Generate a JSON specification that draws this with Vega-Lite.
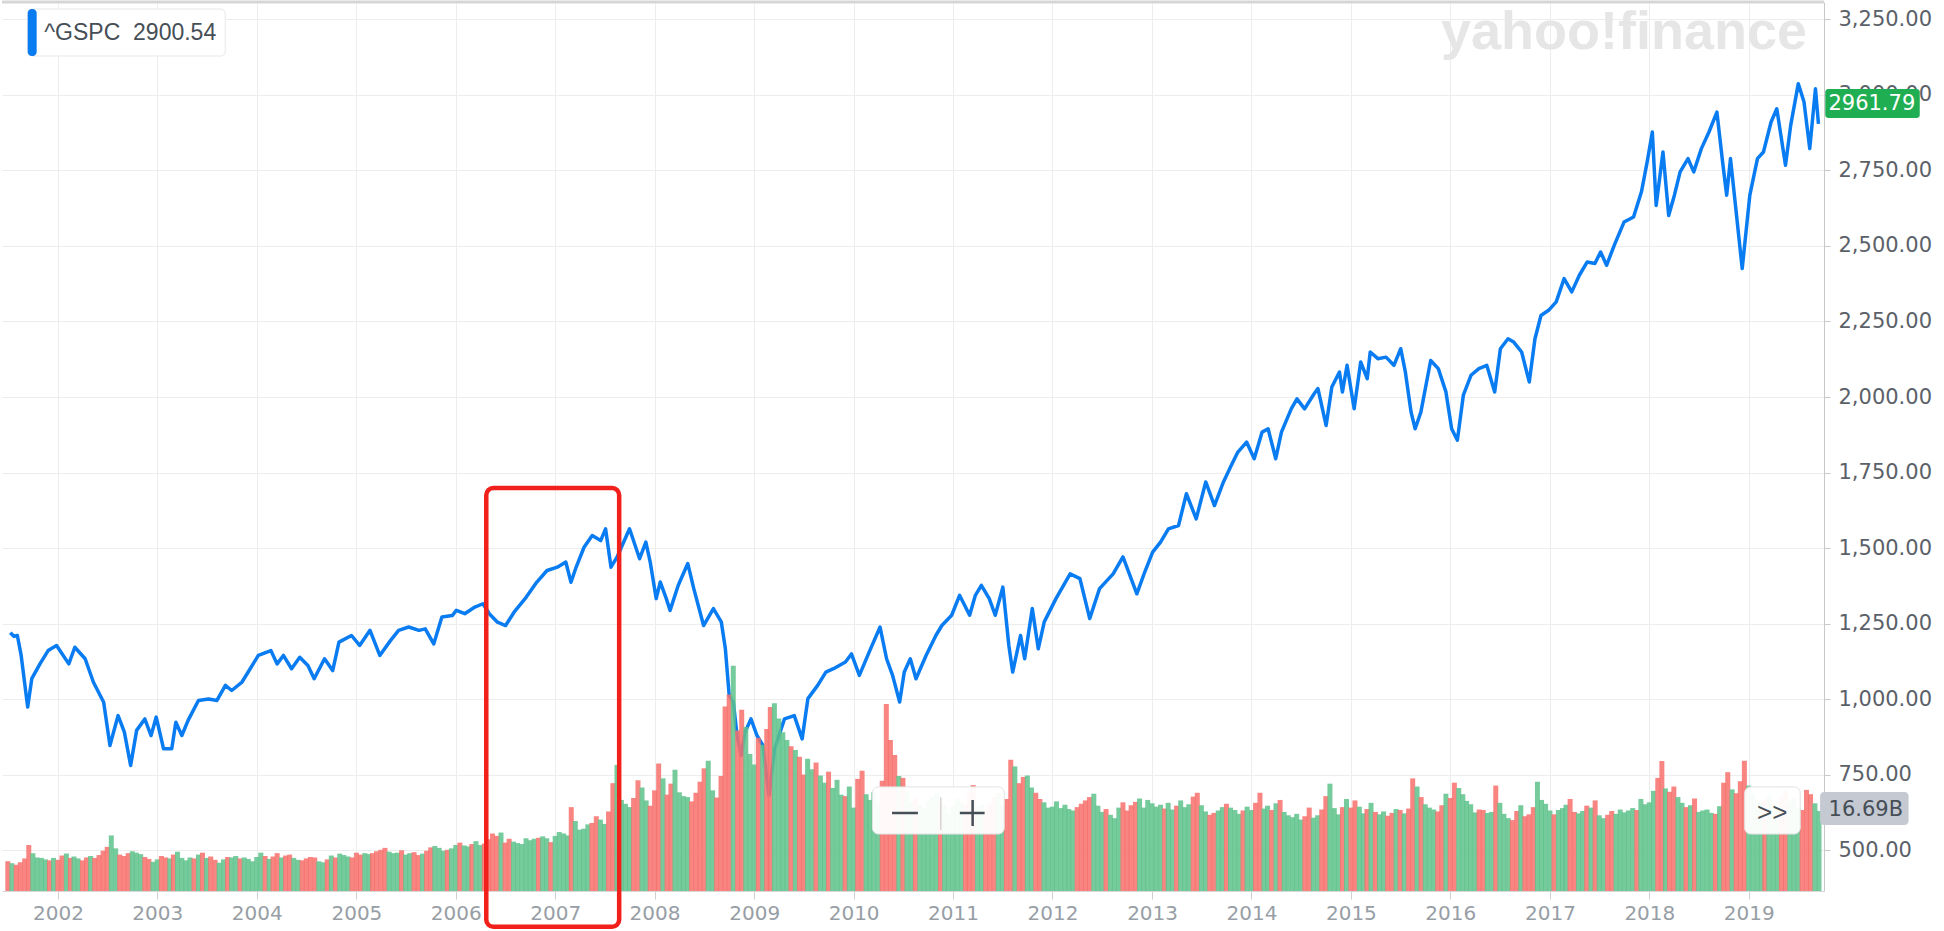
{
"$schema":"https://vega.github.io/schema/vega-lite/v6.json",
"width":1822,"height":889,"padding":0,"background":"white",
"config":{"view":{"stroke":null},"font":"Liberation Sans",
"axisX":{"grid":true,"gridColor":"#ededed","domainColor":"#d9d9d9","tickColor":"#cfcfcf","tickSize":8,"labelFontSize":20,"labelColor":"#979ea5","labelPadding":4,"labelFont":"DejaVu Sans","labelFlush":false,"labelOverlap":false},
"axisY":{"grid":true,"gridColor":"#ededed","domainColor":"#c8c8c8","tickColor":"#c8c8c8","tickSize":6,"labelPadding":8,"labelFontSize":21,"labelColor":"#5b6168","labelFont":"DejaVu Sans"}},
"datasets":{
"one":[{}],
"p":[
{"d":"2001-07-10","c":1220},{"d":"2001-07-24","c":1208},{"d":"2001-08-05","c":1211},{"d":"2001-08-19","c":1145},{"d":"2001-09-12","c":974},{"d":"2001-09-27","c":1068},{"d":"2001-10-27","c":1117},{"d":"2001-11-26","c":1161},{"d":"2001-12-27","c":1178},
{"d":"2002-02-10","c":1117},{"d":"2002-03-04","c":1172},{"d":"2002-04-11","c":1134},{"d":"2002-05-11","c":1057},{"d":"2002-06-18","c":990},{"d":"2002-07-11","c":847},{"d":"2002-08-10","c":946},{"d":"2002-09-02","c":891},{"d":"2002-09-25","c":781},{"d":"2002-10-17","c":897},{"d":"2002-11-16","c":935},{"d":"2002-12-09","c":880},{"d":"2002-12-28","c":941},
{"d":"2003-01-24","c":836},{"d":"2003-02-23","c":836},{"d":"2003-03-10","c":924},{"d":"2003-04-01","c":880},{"d":"2003-04-24","c":930},{"d":"2003-06-01","c":996},{"d":"2003-07-08","c":1001},{"d":"2003-08-08","c":996},{"d":"2003-09-08","c":1046},{"d":"2003-10-01","c":1029},{"d":"2003-11-08","c":1057},{"d":"2003-12-08","c":1101},
{"d":"2004-01-07","c":1145},{"d":"2004-02-22","c":1161},{"d":"2004-03-16","c":1117},{"d":"2004-04-08","c":1145},{"d":"2004-05-08","c":1101},{"d":"2004-06-07","c":1139},{"d":"2004-07-07","c":1112},{"d":"2004-07-30","c":1068},{"d":"2004-09-06","c":1134},{"d":"2004-10-06","c":1095},{"d":"2004-10-29","c":1189},{"d":"2004-12-14","c":1211},
{"d":"2005-01-13","c":1178},{"d":"2005-02-20","c":1228},{"d":"2005-03-28","c":1145},{"d":"2005-05-06","c":1194},{"d":"2005-06-05","c":1228},{"d":"2005-07-12","c":1239},{"d":"2005-08-19","c":1228},{"d":"2005-09-11","c":1233},{"d":"2005-10-12","c":1183},{"d":"2005-11-11","c":1272},{"d":"2005-12-19","c":1277},
{"d":"2006-01-03","c":1294},{"d":"2006-02-03","c":1283},{"d":"2006-03-12","c":1305},{"d":"2006-04-11","c":1316},{"d":"2006-05-04","c":1283},{"d":"2006-06-03","c":1255},{"d":"2006-07-03","c":1244},{"d":"2006-08-03","c":1288},{"d":"2006-09-17","c":1338},{"d":"2006-10-25","c":1387},{"d":"2006-12-02","c":1426},
{"d":"2007-01-09","c":1437},{"d":"2007-02-09","c":1454},{"d":"2007-02-28","c":1387},{"d":"2007-03-17","c":1432},{"d":"2007-04-17","c":1503},{"d":"2007-05-17","c":1542},{"d":"2007-06-17","c":1525},{"d":"2007-07-05","c":1564},{"d":"2007-07-25","c":1437},{"d":"2007-08-16","c":1470},{"d":"2007-10-01","c":1564},{"d":"2007-11-07","c":1465},{"d":"2007-11-30","c":1520},{"d":"2007-12-16","c":1454},
{"d":"2008-01-07","c":1333},{"d":"2008-01-22","c":1388},{"d":"2008-02-13","c":1333},{"d":"2008-02-27","c":1294},{"d":"2008-03-28","c":1377},{"d":"2008-05-02","c":1449},{"d":"2008-05-24","c":1366},{"d":"2008-06-29","c":1244},{"d":"2008-08-04","c":1300},{"d":"2008-09-02","c":1256},{"d":"2008-09-17","c":1167},{"d":"2008-10-01","c":1013},{"d":"2008-10-16","c":991},{"d":"2008-10-30","c":880},{"d":"2008-11-14","c":814},{"d":"2008-11-28","c":891},{"d":"2008-12-20","c":935},
{"d":"2009-01-11","c":880},{"d":"2009-02-02","c":847},{"d":"2009-02-24","c":682},{"d":"2009-03-17","c":836},{"d":"2009-04-22","c":935},{"d":"2009-05-28","c":946},{"d":"2009-06-26","c":869},{"d":"2009-07-17","c":1002},{"d":"2009-08-22","c":1046},{"d":"2009-09-21","c":1090},{"d":"2009-10-19","c":1101},{"d":"2009-12-02","c":1123},{"d":"2009-12-24","c":1150},
{"d":"2010-01-22","c":1079},{"d":"2010-02-27","c":1156},{"d":"2010-04-08","c":1239},{"d":"2010-05-02","c":1134},{"d":"2010-05-24","c":1079},{"d":"2010-06-19","c":991},{"d":"2010-07-06","c":1090},{"d":"2010-07-28","c":1134},{"d":"2010-08-18","c":1068},{"d":"2010-09-24","c":1145},{"d":"2010-10-30","c":1211},{"d":"2010-11-21","c":1244},{"d":"2010-12-27","c":1278},
{"d":"2011-01-25","c":1344},{"d":"2011-03-03","c":1278},{"d":"2011-03-24","c":1344},{"d":"2011-04-15","c":1377},{"d":"2011-05-14","c":1333},{"d":"2011-06-05","c":1278},{"d":"2011-07-03","c":1371},{"d":"2011-07-25","c":1178},{"d":"2011-08-08","c":1090},{"d":"2011-09-06","c":1211},{"d":"2011-09-21","c":1134},{"d":"2011-10-19","c":1300},{"d":"2011-11-10","c":1167},{"d":"2011-12-02","c":1256},
{"d":"2012-01-14","c":1333},{"d":"2012-03-06","c":1415},{"d":"2012-04-11","c":1399},{"d":"2012-05-17","c":1267},{"d":"2012-06-22","c":1366},{"d":"2012-08-11","c":1415},{"d":"2012-09-16","c":1471},{"d":"2012-11-06","c":1349},{"d":"2012-12-05","c":1421},
{"d":"2013-01-03","c":1487},{"d":"2013-02-01","c":1520},{"d":"2013-03-02","c":1564},{"d":"2013-04-08","c":1575},{"d":"2013-05-07","c":1680},{"d":"2013-06-12","c":1597},{"d":"2013-07-17","c":1719},{"d":"2013-08-18","c":1641},{"d":"2013-09-20","c":1719},{"d":"2013-10-19","c":1774},{"d":"2013-11-12","c":1818},{"d":"2013-12-14","c":1851},
{"d":"2014-01-11","c":1796},{"d":"2014-02-09","c":1884},{"d":"2014-03-03","c":1895},{"d":"2014-03-31","c":1796},{"d":"2014-04-21","c":1884},{"d":"2014-05-27","c":1961},{"d":"2014-06-17","c":1994},{"d":"2014-07-15","c":1961},{"d":"2014-08-19","c":2011},{"d":"2014-09-02","c":2028},{"d":"2014-10-02","c":1906},{"d":"2014-10-23","c":2033},{"d":"2014-11-20","c":2083},{"d":"2014-12-01","c":2017},{"d":"2014-12-18","c":2105},
{"d":"2015-01-13","c":1961},{"d":"2015-02-06","c":2116},{"d":"2015-03-02","c":2061},{"d":"2015-03-13","c":2149},{"d":"2015-04-10","c":2127},{"d":"2015-05-10","c":2132},{"d":"2015-06-08","c":2105},{"d":"2015-07-03","c":2160},{"d":"2015-07-20","c":2083},{"d":"2015-08-10","c":1950},{"d":"2015-08-25","c":1895},{"d":"2015-09-15","c":1950},{"d":"2015-10-21","c":2121},{"d":"2015-11-18","c":2094},{"d":"2015-12-16","c":2017},
{"d":"2016-01-06","c":1895},{"d":"2016-01-27","c":1857},{"d":"2016-02-18","c":2006},{"d":"2016-03-17","c":2072},{"d":"2016-04-15","c":2094},{"d":"2016-05-14","c":2105},{"d":"2016-06-12","c":2017},{"d":"2016-07-03","c":2160},{"d":"2016-07-31","c":2193},{"d":"2016-08-21","c":2182},{"d":"2016-09-19","c":2149},{"d":"2016-10-17","c":2050},{"d":"2016-11-07","c":2193},{"d":"2016-11-29","c":2270},{"d":"2016-12-27","c":2287},
{"d":"2017-01-24","c":2315},{"d":"2017-02-22","c":2392},{"d":"2017-03-22","c":2348},{"d":"2017-04-19","c":2403},{"d":"2017-05-18","c":2447},{"d":"2017-06-15","c":2442},{"d":"2017-07-06","c":2480},{"d":"2017-07-28","c":2436},{"d":"2017-08-25","c":2502},{"d":"2017-09-30","c":2579},{"d":"2017-11-04","c":2596},{"d":"2017-12-03","c":2679},{"d":"2017-12-24","c":2778},
{"d":"2018-01-12","c":2877},{"d":"2018-01-26","c":2634},{"d":"2018-02-20","c":2811},{"d":"2018-03-13","c":2601},{"d":"2018-04-03","c":2668},{"d":"2018-04-24","c":2745},{"d":"2018-05-23","c":2789},{"d":"2018-06-13","c":2745},{"d":"2018-07-11","c":2822},{"d":"2018-08-08","c":2877},{"d":"2018-09-06","c":2943},{"d":"2018-09-27","c":2778},{"d":"2018-10-12","c":2668},{"d":"2018-10-26","c":2789},{"d":"2018-11-12","c":2645},{"d":"2018-12-08","c":2425},
{"d":"2019-01-05","c":2668},{"d":"2019-02-02","c":2789},{"d":"2019-02-24","c":2811},{"d":"2019-03-24","c":2910},{"d":"2019-04-14","c":2954},{"d":"2019-05-16","c":2767},{"d":"2019-06-04","c":2899},{"d":"2019-07-02","c":3037},{"d":"2019-07-23","c":2976},{"d":"2019-08-13","c":2822},{"d":"2019-09-03","c":3020},{"d":"2019-09-14","c":2904}
],
"v":[
{"d":"2001-07-01","v":6.2,"u":0},{"d":"2001-07-16","v":5.8,"u":1},{"d":"2001-08-01","v":5.5,"u":0},{"d":"2001-08-16","v":6.0,"u":0},{"d":"2001-09-01","v":6.8,"u":0},{"d":"2001-09-16","v":9.6,"u":0},{"d":"2001-10-01","v":7.9,"u":1},{"d":"2001-10-16","v":7.0,"u":1},{"d":"2001-11-01","v":6.9,"u":1},{"d":"2001-11-16","v":6.6,"u":1},{"d":"2001-12-01","v":6.4,"u":0},{"d":"2001-12-16","v":6.9,"u":1},
{"d":"2002-01-01","v":6.5,"u":0},{"d":"2002-01-16","v":7.4,"u":0},{"d":"2002-02-01","v":7.8,"u":1},{"d":"2002-02-16","v":6.9,"u":0},{"d":"2002-03-01","v":7.2,"u":1},{"d":"2002-03-16","v":6.8,"u":1},{"d":"2002-04-01","v":6.4,"u":0},{"d":"2002-04-16","v":7.0,"u":0},{"d":"2002-05-01","v":7.3,"u":1},{"d":"2002-05-16","v":6.9,"u":0},{"d":"2002-06-01","v":7.5,"u":0},{"d":"2002-06-16","v":8.4,"u":0},{"d":"2002-07-01","v":9.2,"u":0},{"d":"2002-07-16","v":11.6,"u":1},{"d":"2002-08-01","v":8.9,"u":1},{"d":"2002-08-16","v":7.6,"u":0},{"d":"2002-09-01","v":7.3,"u":0},{"d":"2002-09-16","v":7.9,"u":0},{"d":"2002-10-01","v":8.3,"u":1},{"d":"2002-10-16","v":8.0,"u":1},{"d":"2002-11-01","v":7.7,"u":1},{"d":"2002-11-16","v":7.1,"u":0},{"d":"2002-12-01","v":6.7,"u":0},{"d":"2002-12-16","v":6.1,"u":1},
{"d":"2003-01-01","v":6.6,"u":1},{"d":"2003-01-16","v":7.3,"u":0},{"d":"2003-02-01","v":7.0,"u":0},{"d":"2003-02-16","v":6.8,"u":1},{"d":"2003-03-01","v":7.6,"u":0},{"d":"2003-03-16","v":8.2,"u":1},{"d":"2003-04-01","v":6.9,"u":1},{"d":"2003-04-16","v":6.4,"u":1},{"d":"2003-05-01","v":7.0,"u":1},{"d":"2003-05-16","v":6.8,"u":0},{"d":"2003-06-01","v":7.6,"u":1},{"d":"2003-06-16","v":8.0,"u":0},{"d":"2003-07-01","v":6.9,"u":1},{"d":"2003-07-16","v":7.2,"u":0},{"d":"2003-08-01","v":6.5,"u":0},{"d":"2003-08-16","v":5.9,"u":1},{"d":"2003-09-01","v":6.6,"u":1},{"d":"2003-09-16","v":7.1,"u":0},{"d":"2003-10-01","v":7.0,"u":1},{"d":"2003-10-16","v":7.3,"u":1},{"d":"2003-11-01","v":6.8,"u":0},{"d":"2003-11-16","v":7.0,"u":1},{"d":"2003-12-01","v":6.7,"u":1},{"d":"2003-12-16","v":6.2,"u":1},
{"d":"2004-01-01","v":7.1,"u":1},{"d":"2004-01-16","v":8.0,"u":1},{"d":"2004-02-01","v":7.3,"u":0},{"d":"2004-02-16","v":6.7,"u":1},{"d":"2004-03-01","v":7.2,"u":0},{"d":"2004-03-16","v":7.9,"u":0},{"d":"2004-04-01","v":7.0,"u":1},{"d":"2004-04-16","v":7.4,"u":0},{"d":"2004-05-01","v":7.6,"u":0},{"d":"2004-05-16","v":6.9,"u":1},{"d":"2004-06-01","v":6.5,"u":1},{"d":"2004-06-16","v":6.4,"u":0},{"d":"2004-07-01","v":6.8,"u":0},{"d":"2004-07-16","v":7.1,"u":0},{"d":"2004-08-01","v":7.0,"u":0},{"d":"2004-08-16","v":6.2,"u":1},{"d":"2004-09-01","v":6.0,"u":1},{"d":"2004-09-16","v":6.6,"u":0},{"d":"2004-10-01","v":7.4,"u":1},{"d":"2004-10-16","v":7.0,"u":0},{"d":"2004-11-01","v":7.8,"u":1},{"d":"2004-11-16","v":7.5,"u":1},{"d":"2004-12-01","v":7.2,"u":1},{"d":"2004-12-16","v":7.0,"u":0},
{"d":"2005-01-01","v":8.0,"u":0},{"d":"2005-01-16","v":7.6,"u":0},{"d":"2005-02-01","v":7.9,"u":1},{"d":"2005-02-16","v":7.7,"u":1},{"d":"2005-03-01","v":7.9,"u":0},{"d":"2005-03-16","v":8.3,"u":0},{"d":"2005-04-01","v":8.6,"u":0},{"d":"2005-04-16","v":9.0,"u":0},{"d":"2005-05-01","v":8.2,"u":1},{"d":"2005-05-16","v":7.9,"u":1},{"d":"2005-06-01","v":8.0,"u":1},{"d":"2005-06-16","v":8.5,"u":0},{"d":"2005-07-01","v":7.6,"u":1},{"d":"2005-07-16","v":7.9,"u":1},{"d":"2005-08-01","v":8.1,"u":0},{"d":"2005-08-16","v":7.5,"u":0},{"d":"2005-09-01","v":7.8,"u":1},{"d":"2005-09-16","v":8.4,"u":0},{"d":"2005-10-01","v":9.1,"u":0},{"d":"2005-10-16","v":9.4,"u":1},{"d":"2005-11-01","v":9.0,"u":1},{"d":"2005-11-16","v":8.4,"u":1},{"d":"2005-12-01","v":8.6,"u":0},{"d":"2005-12-16","v":8.9,"u":1},
{"d":"2006-01-01","v":9.6,"u":1},{"d":"2006-01-16","v":10.1,"u":0},{"d":"2006-02-01","v":9.5,"u":1},{"d":"2006-02-16","v":9.3,"u":1},{"d":"2006-03-01","v":9.8,"u":0},{"d":"2006-03-16","v":10.4,"u":1},{"d":"2006-04-01","v":9.6,"u":1},{"d":"2006-04-16","v":9.9,"u":0},{"d":"2006-05-01","v":10.8,"u":0},{"d":"2006-05-16","v":12.0,"u":0},{"d":"2006-06-01","v":11.5,"u":0},{"d":"2006-06-16","v":12.2,"u":1},{"d":"2006-07-01","v":10.1,"u":0},{"d":"2006-07-16","v":10.9,"u":0},{"d":"2006-08-01","v":10.3,"u":1},{"d":"2006-08-16","v":10.0,"u":1},{"d":"2006-09-01","v":9.8,"u":1},{"d":"2006-09-16","v":11.0,"u":1},{"d":"2006-10-01","v":10.6,"u":1},{"d":"2006-10-16","v":10.9,"u":1},{"d":"2006-11-01","v":11.1,"u":0},{"d":"2006-11-16","v":11.4,"u":1},{"d":"2006-12-01","v":11.0,"u":1},{"d":"2006-12-16","v":10.2,"u":0},
{"d":"2007-01-01","v":11.5,"u":1},{"d":"2007-01-16","v":12.3,"u":1},{"d":"2007-02-01","v":12.0,"u":1},{"d":"2007-02-16","v":11.6,"u":1},{"d":"2007-03-01","v":17.5,"u":0},{"d":"2007-03-16","v":14.6,"u":1},{"d":"2007-04-01","v":12.8,"u":1},{"d":"2007-04-16","v":13.0,"u":1},{"d":"2007-05-01","v":13.9,"u":1},{"d":"2007-05-16","v":14.2,"u":0},{"d":"2007-06-01","v":15.6,"u":0},{"d":"2007-06-16","v":14.9,"u":1},{"d":"2007-07-01","v":14.0,"u":1},{"d":"2007-07-16","v":16.6,"u":0},{"d":"2007-08-01","v":22.5,"u":0},{"d":"2007-08-16","v":26.3,"u":1},{"d":"2007-09-01","v":19.0,"u":1},{"d":"2007-09-16","v":18.2,"u":1},{"d":"2007-10-01","v":17.5,"u":1},{"d":"2007-10-16","v":19.4,"u":0},{"d":"2007-11-01","v":23.1,"u":0},{"d":"2007-11-16","v":21.6,"u":1},{"d":"2007-12-01","v":18.9,"u":1},{"d":"2007-12-16","v":17.8,"u":0},
{"d":"2008-01-01","v":21.0,"u":0},{"d":"2008-01-16","v":26.6,"u":0},{"d":"2008-02-01","v":23.5,"u":1},{"d":"2008-02-16","v":20.1,"u":0},{"d":"2008-03-01","v":22.4,"u":0},{"d":"2008-03-16","v":25.3,"u":1},{"d":"2008-04-01","v":20.6,"u":1},{"d":"2008-04-16","v":19.8,"u":1},{"d":"2008-05-01","v":19.6,"u":1},{"d":"2008-05-16","v":18.7,"u":0},{"d":"2008-06-01","v":20.5,"u":0},{"d":"2008-06-16","v":22.8,"u":0},{"d":"2008-07-01","v":25.6,"u":0},{"d":"2008-07-16","v":27.2,"u":1},{"d":"2008-08-01","v":21.0,"u":1},{"d":"2008-08-16","v":19.5,"u":0},{"d":"2008-09-01","v":24.0,"u":0},{"d":"2008-09-16","v":38.5,"u":0},{"d":"2008-10-01","v":41.0,"u":0},{"d":"2008-10-16","v":47.0,"u":1},{"d":"2008-11-01","v":33.5,"u":0},{"d":"2008-11-16","v":37.8,"u":0},{"d":"2008-12-01","v":34.2,"u":1},{"d":"2008-12-16","v":28.6,"u":1},
{"d":"2009-01-01","v":26.4,"u":1},{"d":"2009-01-16","v":32.0,"u":0},{"d":"2009-02-01","v":30.5,"u":1},{"d":"2009-02-16","v":33.8,"u":0},{"d":"2009-03-01","v":38.4,"u":0},{"d":"2009-03-16","v":39.2,"u":1},{"d":"2009-04-01","v":36.0,"u":1},{"d":"2009-04-16","v":33.1,"u":1},{"d":"2009-05-01","v":31.5,"u":1},{"d":"2009-05-16","v":30.2,"u":0},{"d":"2009-06-01","v":29.4,"u":1},{"d":"2009-06-16","v":28.0,"u":0},{"d":"2009-07-01","v":24.3,"u":0},{"d":"2009-07-16","v":27.6,"u":1},{"d":"2009-08-01","v":25.4,"u":1},{"d":"2009-08-16","v":26.8,"u":0},{"d":"2009-09-01","v":24.1,"u":1},{"d":"2009-09-16","v":22.6,"u":1},{"d":"2009-10-01","v":24.9,"u":0},{"d":"2009-10-16","v":21.5,"u":1},{"d":"2009-11-01","v":23.2,"u":1},{"d":"2009-11-16","v":20.1,"u":1},{"d":"2009-12-01","v":19.8,"u":0},{"d":"2009-12-16","v":21.8,"u":1},
{"d":"2010-01-01","v":17.4,"u":1},{"d":"2010-01-16","v":23.4,"u":0},{"d":"2010-02-01","v":25.1,"u":0},{"d":"2010-02-16","v":20.2,"u":1},{"d":"2010-03-01","v":19.0,"u":1},{"d":"2010-03-16","v":20.6,"u":1},{"d":"2010-04-01","v":18.1,"u":1},{"d":"2010-04-16","v":23.0,"u":0},{"d":"2010-05-01","v":39.0,"u":0},{"d":"2010-05-16","v":31.5,"u":0},{"d":"2010-06-01","v":28.4,"u":0},{"d":"2010-06-16","v":24.0,"u":1},{"d":"2010-07-01","v":23.6,"u":0},{"d":"2010-07-16","v":20.8,"u":1},{"d":"2010-08-01","v":18.6,"u":1},{"d":"2010-08-16","v":19.4,"u":0},{"d":"2010-09-01","v":18.0,"u":1},{"d":"2010-09-16","v":17.2,"u":1},{"d":"2010-10-01","v":18.8,"u":1},{"d":"2010-10-16","v":19.6,"u":1},{"d":"2010-11-01","v":20.4,"u":1},{"d":"2010-11-16","v":18.5,"u":0},{"d":"2010-12-01","v":17.9,"u":1},{"d":"2010-12-16","v":16.2,"u":1},
{"d":"2011-01-01","v":17.8,"u":1},{"d":"2011-01-16","v":19.3,"u":1},{"d":"2011-02-01","v":18.4,"u":1},{"d":"2011-02-16","v":17.9,"u":0},{"d":"2011-03-01","v":20.5,"u":0},{"d":"2011-03-16","v":22.1,"u":0},{"d":"2011-04-01","v":17.6,"u":1},{"d":"2011-04-16","v":18.1,"u":1},{"d":"2011-05-01","v":17.0,"u":0},{"d":"2011-05-16","v":18.3,"u":0},{"d":"2011-06-01","v":19.6,"u":0},{"d":"2011-06-16","v":20.4,"u":1},{"d":"2011-07-01","v":17.8,"u":1},{"d":"2011-07-16","v":19.2,"u":0},{"d":"2011-08-01","v":27.4,"u":0},{"d":"2011-08-16","v":26.0,"u":1},{"d":"2011-09-01","v":22.5,"u":0},{"d":"2011-09-16","v":23.8,"u":0},{"d":"2011-10-01","v":24.1,"u":1},{"d":"2011-10-16","v":21.6,"u":1},{"d":"2011-11-01","v":20.5,"u":0},{"d":"2011-11-16","v":19.2,"u":0},{"d":"2011-12-01","v":18.5,"u":1},{"d":"2011-12-16","v":17.4,"u":1},
{"d":"2012-01-01","v":17.6,"u":1},{"d":"2012-01-16","v":18.7,"u":1},{"d":"2012-02-01","v":17.3,"u":1},{"d":"2012-02-16","v":18.0,"u":1},{"d":"2012-03-01","v":17.1,"u":1},{"d":"2012-03-16","v":16.8,"u":1},{"d":"2012-04-01","v":17.5,"u":0},{"d":"2012-04-16","v":18.2,"u":0},{"d":"2012-05-01","v":18.9,"u":0},{"d":"2012-05-16","v":19.6,"u":0},{"d":"2012-06-01","v":20.3,"u":1},{"d":"2012-06-16","v":17.8,"u":1},{"d":"2012-07-01","v":16.5,"u":1},{"d":"2012-07-16","v":17.1,"u":0},{"d":"2012-08-01","v":15.9,"u":1},{"d":"2012-08-16","v":15.2,"u":1},{"d":"2012-09-01","v":17.4,"u":1},{"d":"2012-09-16","v":18.5,"u":0},{"d":"2012-10-01","v":16.8,"u":0},{"d":"2012-10-16","v":17.9,"u":0},{"d":"2012-11-01","v":18.6,"u":0},{"d":"2012-11-16","v":19.3,"u":1},{"d":"2012-12-01","v":17.4,"u":1},{"d":"2012-12-16","v":19.0,"u":1},
{"d":"2013-01-01","v":18.3,"u":1},{"d":"2013-01-16","v":17.6,"u":1},{"d":"2013-02-01","v":18.0,"u":1},{"d":"2013-02-16","v":17.2,"u":0},{"d":"2013-03-01","v":18.4,"u":1},{"d":"2013-03-16","v":17.0,"u":1},{"d":"2013-04-01","v":17.8,"u":0},{"d":"2013-04-16","v":18.9,"u":1},{"d":"2013-05-01","v":17.5,"u":1},{"d":"2013-05-16","v":18.1,"u":1},{"d":"2013-06-01","v":19.7,"u":0},{"d":"2013-06-16","v":20.5,"u":0},{"d":"2013-07-01","v":17.9,"u":1},{"d":"2013-07-16","v":16.6,"u":1},{"d":"2013-08-01","v":15.9,"u":0},{"d":"2013-08-16","v":16.3,"u":0},{"d":"2013-09-01","v":16.8,"u":1},{"d":"2013-09-16","v":17.5,"u":1},{"d":"2013-10-01","v":18.2,"u":0},{"d":"2013-10-16","v":17.4,"u":1},{"d":"2013-11-01","v":16.9,"u":1},{"d":"2013-11-16","v":16.1,"u":1},{"d":"2013-12-01","v":16.8,"u":0},{"d":"2013-12-16","v":17.6,"u":1},
{"d":"2014-01-01","v":16.9,"u":1},{"d":"2014-01-16","v":18.4,"u":0},{"d":"2014-02-01","v":20.5,"u":0},{"d":"2014-02-16","v":17.2,"u":1},{"d":"2014-03-01","v":17.8,"u":1},{"d":"2014-03-16","v":16.9,"u":0},{"d":"2014-04-01","v":18.3,"u":1},{"d":"2014-04-16","v":19.0,"u":0},{"d":"2014-05-01","v":16.5,"u":1},{"d":"2014-05-16","v":15.8,"u":1},{"d":"2014-06-01","v":15.4,"u":1},{"d":"2014-06-16","v":16.1,"u":1},{"d":"2014-07-01","v":14.9,"u":1},{"d":"2014-07-16","v":15.6,"u":0},{"d":"2014-08-01","v":17.4,"u":0},{"d":"2014-08-16","v":15.3,"u":1},{"d":"2014-09-01","v":15.8,"u":1},{"d":"2014-09-16","v":17.0,"u":0},{"d":"2014-10-01","v":19.8,"u":0},{"d":"2014-10-16","v":22.4,"u":1},{"d":"2014-11-01","v":17.3,"u":1},{"d":"2014-11-16","v":16.0,"u":1},{"d":"2014-12-01","v":17.5,"u":0},{"d":"2014-12-16","v":19.2,"u":1},
{"d":"2015-01-01","v":17.4,"u":0},{"d":"2015-01-16","v":18.9,"u":0},{"d":"2015-02-01","v":17.6,"u":1},{"d":"2015-02-16","v":16.2,"u":1},{"d":"2015-03-01","v":17.1,"u":0},{"d":"2015-03-16","v":18.4,"u":1},{"d":"2015-04-01","v":16.5,"u":0},{"d":"2015-04-16","v":16.0,"u":1},{"d":"2015-05-01","v":16.6,"u":1},{"d":"2015-05-16","v":15.7,"u":0},{"d":"2015-06-01","v":16.3,"u":0},{"d":"2015-06-16","v":17.1,"u":1},{"d":"2015-07-01","v":16.9,"u":0},{"d":"2015-07-16","v":16.2,"u":1},{"d":"2015-08-01","v":17.2,"u":0},{"d":"2015-08-16","v":23.5,"u":0},{"d":"2015-09-01","v":21.8,"u":1},{"d":"2015-09-16","v":19.6,"u":0},{"d":"2015-10-01","v":18.1,"u":1},{"d":"2015-10-16","v":17.4,"u":1},{"d":"2015-11-01","v":17.0,"u":1},{"d":"2015-11-16","v":16.6,"u":0},{"d":"2015-12-01","v":17.9,"u":0},{"d":"2015-12-16","v":20.3,"u":1},
{"d":"2016-01-01","v":19.4,"u":0},{"d":"2016-01-16","v":22.6,"u":0},{"d":"2016-02-01","v":21.5,"u":1},{"d":"2016-02-16","v":20.2,"u":1},{"d":"2016-03-01","v":18.8,"u":1},{"d":"2016-03-16","v":18.1,"u":1},{"d":"2016-04-01","v":16.4,"u":1},{"d":"2016-04-16","v":17.0,"u":0},{"d":"2016-05-01","v":16.9,"u":0},{"d":"2016-05-16","v":16.3,"u":1},{"d":"2016-06-01","v":16.5,"u":1},{"d":"2016-06-16","v":22.0,"u":0},{"d":"2016-07-01","v":18.4,"u":1},{"d":"2016-07-16","v":16.1,"u":1},{"d":"2016-08-01","v":15.2,"u":1},{"d":"2016-08-16","v":14.8,"u":0},{"d":"2016-09-01","v":16.7,"u":0},{"d":"2016-09-16","v":17.9,"u":1},{"d":"2016-10-01","v":15.6,"u":0},{"d":"2016-10-16","v":16.0,"u":0},{"d":"2016-11-01","v":17.5,"u":0},{"d":"2016-11-16","v":22.8,"u":1},{"d":"2016-12-01","v":19.0,"u":1},{"d":"2016-12-16","v":18.2,"u":1},
{"d":"2017-01-01","v":16.8,"u":1},{"d":"2017-01-16","v":16.0,"u":0},{"d":"2017-02-01","v":16.9,"u":1},{"d":"2017-02-16","v":17.3,"u":1},{"d":"2017-03-01","v":18.0,"u":1},{"d":"2017-03-16","v":19.2,"u":0},{"d":"2017-04-01","v":16.5,"u":0},{"d":"2017-04-16","v":16.2,"u":1},{"d":"2017-05-01","v":16.7,"u":1},{"d":"2017-05-16","v":17.8,"u":0},{"d":"2017-06-01","v":17.4,"u":1},{"d":"2017-06-16","v":18.9,"u":0},{"d":"2017-07-01","v":15.8,"u":1},{"d":"2017-07-16","v":15.2,"u":1},{"d":"2017-08-01","v":15.9,"u":0},{"d":"2017-08-16","v":16.7,"u":0},{"d":"2017-09-01","v":16.1,"u":1},{"d":"2017-09-16","v":17.0,"u":1},{"d":"2017-10-01","v":16.4,"u":1},{"d":"2017-10-16","v":16.8,"u":1},{"d":"2017-11-01","v":17.3,"u":1},{"d":"2017-11-16","v":16.9,"u":0},{"d":"2017-12-01","v":19.2,"u":1},{"d":"2017-12-16","v":18.1,"u":1},
{"d":"2018-01-01","v":18.5,"u":1},{"d":"2018-01-16","v":20.9,"u":1},{"d":"2018-02-01","v":23.6,"u":0},{"d":"2018-02-16","v":27.1,"u":0},{"d":"2018-03-01","v":21.4,"u":1},{"d":"2018-03-16","v":20.7,"u":0},{"d":"2018-04-01","v":21.8,"u":0},{"d":"2018-04-16","v":19.6,"u":1},{"d":"2018-05-01","v":18.4,"u":1},{"d":"2018-05-16","v":17.5,"u":0},{"d":"2018-06-01","v":17.9,"u":1},{"d":"2018-06-16","v":19.3,"u":0},{"d":"2018-07-01","v":16.5,"u":1},{"d":"2018-07-16","v":16.8,"u":1},{"d":"2018-08-01","v":17.0,"u":1},{"d":"2018-08-16","v":16.3,"u":1},{"d":"2018-09-01","v":16.1,"u":0},{"d":"2018-09-16","v":17.7,"u":1},{"d":"2018-10-01","v":22.6,"u":0},{"d":"2018-10-16","v":24.8,"u":0},{"d":"2018-11-01","v":21.2,"u":1},{"d":"2018-11-16","v":20.4,"u":0},{"d":"2018-12-01","v":22.9,"u":0},{"d":"2018-12-16","v":27.2,"u":0},
{"d":"2019-01-01","v":22.0,"u":1},{"d":"2019-01-16","v":20.3,"u":1},{"d":"2019-02-01","v":19.1,"u":1},{"d":"2019-02-16","v":18.4,"u":1},{"d":"2019-03-01","v":18.9,"u":0},{"d":"2019-03-16","v":19.8,"u":1},{"d":"2019-04-01","v":17.6,"u":1},{"d":"2019-04-16","v":17.0,"u":1},{"d":"2019-05-01","v":19.6,"u":0},{"d":"2019-05-16","v":20.9,"u":0},{"d":"2019-06-01","v":18.8,"u":1},{"d":"2019-06-16","v":19.5,"u":1},{"d":"2019-07-01","v":17.2,"u":1},{"d":"2019-07-16","v":16.9,"u":0},{"d":"2019-08-01","v":21.1,"u":0},{"d":"2019-08-16","v":20.2,"u":0},{"d":"2019-09-01","v":18.3,"u":1},{"d":"2019-09-16","v":16.7,"u":1}
]},
"layer":[
{"data":{"name":"one"},"layer":[
{"mark":{"type":"text","text":"yahoo!finance","font":"Liberation Sans","fontWeight":"bold","fontSize":54,"color":"#e6e6e6","align":"right","baseline":"middle"},
 "encoding":{"x":{"datum":{"year":2019,"month":8,"date":3,"utc":true},"type":"temporal","title":null},"y":{"datum":3203,"type":"quantitative","title":null}}},
{"data":{"name":"p"},"mark":{"type":"line","color":"#0a7cf2","strokeWidth":3.5,"strokeJoin":"round"},
 "encoding":{
  "x":{"field":"d","type":"temporal","title":null,
   "scale":{"type":"utc","domain":[{"year":2001,"month":6,"date":28,"utc":true},{"year":2019,"month":9,"date":16,"utc":true}]},
   "axis":{"format":"%Y","formatType":"utc","values":[{"year":2002,"utc":true},{"year":2003,"utc":true},{"year":2004,"utc":true},{"year":2005,"utc":true},{"year":2006,"utc":true},{"year":2007,"utc":true},{"year":2008,"utc":true},{"year":2009,"utc":true},{"year":2010,"utc":true},{"year":2011,"utc":true},{"year":2012,"utc":true},{"year":2013,"utc":true},{"year":2014,"utc":true},{"year":2015,"utc":true},{"year":2016,"utc":true},{"year":2017,"utc":true},{"year":2018,"utc":true},{"year":2019,"utc":true}]}},
  "y":{"field":"c","type":"quantitative","title":null,"scale":{"domain":[365.5,3307.2],"nice":false,"zero":false},
   "axis":{"orient":"right","values":[500,750,1000,1250,1500,1750,2000,2250,2500,2750,3000,3250],"format":",.2f"}}}},
{"mark":{"type":"rect","fill":"white","stroke":"#efefef","strokeWidth":1.5,"cornerRadius":5},
 "encoding":{"x":{"datum":{"year":2001,"month":9,"date":12,"utc":true},"type":"temporal","title":null},"x2":{"datum":{"year":2003,"month":9,"date":8,"utc":true}},"y":{"datum":3284,"type":"quantitative","title":null},"y2":{"datum":3128.6}}},
{"mark":{"type":"rect","fill":"#0a7cf2","cornerRadius":4},
 "encoding":{"x":{"datum":{"year":2001,"month":9,"date":12,"utc":true},"type":"temporal","title":null},"x2":{"datum":{"year":2001,"month":10,"date":15,"utc":true}},"y":{"datum":3284,"type":"quantitative","title":null},"y2":{"datum":3128.6}}},
{"mark":{"type":"text","text":"^GSPC\u00a0 2900.54","font":"Liberation Sans","fontSize":23,"color":"#464e56","align":"left","baseline":"middle"},
 "encoding":{"x":{"datum":{"year":2001,"month":11,"date":12,"utc":true},"type":"temporal","title":null},"y":{"datum":3205,"type":"quantitative","title":null}}},
{"mark":{"type":"rect","fill":"#1fae52","cornerRadius":3},
 "encoding":{"x":{"datum":{"year":2019,"month":10,"date":9,"utc":true},"type":"temporal","title":null},"x2":{"datum":{"year":2020,"month":9,"date":20,"utc":true}},"y":{"datum":3019.4,"type":"quantitative","title":null},"y2":{"datum":2923.4}}},
{"mark":{"type":"text","text":"2961.79","font":"DejaVu Sans","fontSize":21,"color":"white","align":"center","baseline":"middle"},
 "encoding":{"x":{"datum":{"year":2020,"month":3,"date":28,"utc":true},"type":"temporal","title":null},"y":{"datum":2970,"type":"quantitative","title":null}}}
]},
{"data":{"name":"v"},"layer":[
{"mark":{"type":"bar","width":5,"opacity":0.85},
 "encoding":{"x":{"field":"d","type":"temporal","title":null},
  "y":{"field":"v","type":"quantitative","title":null,"scale":{"domain":[0,185.5],"nice":false},"axis":null},
  "color":{"field":"u","type":"nominal","scale":{"domain":[0,1],"range":["#f7706b","#5ec28b"]},"legend":null}}},
{"data":{"name":"one"},"mark":{"type":"rect","fill":"#c4c9d2","cornerRadius":4},
 "encoding":{"x":{"datum":{"year":2019,"month":9,"date":20,"utc":true},"type":"temporal","title":null},"x2":{"datum":{"year":2020,"month":8,"date":10,"utc":true}},"y":{"datum":13.77,"type":"quantitative","title":null},"y2":{"datum":20.66}}},
{"data":{"name":"one"},"mark":{"type":"text","text":"16.69B","font":"DejaVu Sans","fontSize":21,"color":"#464e56","align":"center","baseline":"middle"},
 "encoding":{"x":{"datum":{"year":2020,"month":3,"date":6,"utc":true},"type":"temporal","title":null},"y":{"datum":17.0,"type":"quantitative","title":null}}}
]},
{"data":{"name":"one"},"layer":[
{"mark":{"type":"rule","color":"#d6d6d6","strokeWidth":3},
 "encoding":{"y":{"datum":3307.2,"type":"quantitative","title":null,"scale":{"domain":[365.5,3307.2],"nice":false,"zero":false},"axis":null}}},
{"mark":{"type":"rect","fill":"white","fillOpacity":0.95,"stroke":"#e2e2e2","strokeWidth":1,"cornerRadius":6},
 "encoding":{"x":{"datum":{"year":2010,"month":3,"date":11,"utc":true},"type":"temporal","title":null},"x2":{"datum":{"year":2011,"month":7,"date":8,"utc":true}},"y":{"datum":710,"type":"quantitative","title":null},"y2":{"datum":554}}},
{"mark":{"type":"rule","color":"#464e56","strokeWidth":2.5},
 "encoding":{"x":{"datum":{"year":2010,"month":5,"date":22,"utc":true},"type":"temporal","title":null},"x2":{"datum":{"year":2010,"month":8,"date":25,"utc":true}},"y":{"datum":623.6,"type":"quantitative","title":null}}},
{"mark":{"type":"rule","color":"#464e56","strokeWidth":2.5},
 "encoding":{"x":{"datum":{"year":2011,"month":1,"date":26,"utc":true},"type":"temporal","title":null},"x2":{"datum":{"year":2011,"month":4,"date":27,"utc":true}},"y":{"datum":623.6,"type":"quantitative","title":null}}},
{"mark":{"type":"rule","color":"#464e56","strokeWidth":2.5},
 "encoding":{"x":{"datum":{"year":2011,"month":3,"date":14,"utc":true},"type":"temporal","title":null},"y":{"datum":666.6,"type":"quantitative","title":null},"y2":{"datum":580.6}}},
{"mark":{"type":"rule","color":"#d4d4d4","strokeWidth":1.5},
 "encoding":{"x":{"datum":{"year":2010,"month":11,"date":17,"utc":true},"type":"temporal","title":null},"y":{"datum":676,"type":"quantitative","title":null},"y2":{"datum":567}}},
{"mark":{"type":"rect","fill":"white","fillOpacity":0.95,"stroke":"#e2e2e2","strokeWidth":1,"cornerRadius":6},
 "encoding":{"x":{"datum":{"year":2018,"month":12,"date":17,"utc":true},"type":"temporal","title":null},"x2":{"datum":{"year":2019,"month":7,"date":9,"utc":true}},"y":{"datum":710,"type":"quantitative","title":null},"y2":{"datum":554}}},
{"mark":{"type":"text","text":">>","font":"Liberation Sans","fontSize":26,"color":"#464e56","align":"center","baseline":"middle"},
 "encoding":{"x":{"datum":{"year":2019,"month":3,"date":28,"utc":true},"type":"temporal","title":null},"y":{"datum":623.6,"type":"quantitative","title":null}}},
{"mark":{"type":"rect","fillOpacity":0,"stroke":"#f2201a","strokeWidth":4.5,"cornerRadius":7},
 "encoding":{"x":{"datum":{"year":2006,"month":4,"date":23,"utc":true},"type":"temporal","title":null},"x2":{"datum":{"year":2007,"month":8,"date":24,"utc":true}},"y":{"datum":1699,"type":"quantitative","title":null},"y2":{"datum":247}}}
]}
],
"resolve":{"scale":{"y":"independent"},"axis":{"y":"independent"}}
}
